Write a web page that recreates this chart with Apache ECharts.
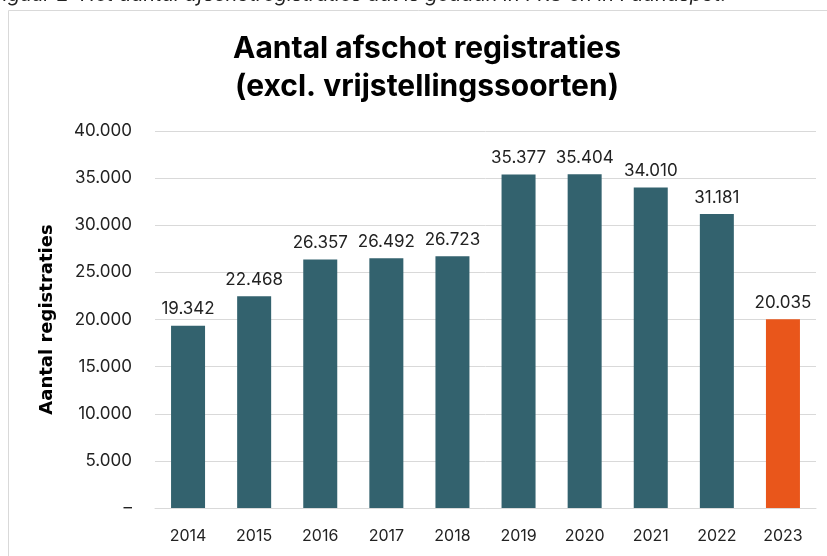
<!DOCTYPE html>
<html>
<head>
<meta charset="utf-8">
<script src="https://cdn.jsdelivr.net/npm/echarts@6/dist/echarts.min.js"></script>
<style>
  html, body { margin: 0; padding: 0; background: #fff; }
  #chart { width: 827px; height: 556px; }
</style>
</head>
<body>
<div id="chart"></div>
<script>
// jaren en aantallen afschot registraties
const years = ['2014', '2015', '2016', '2017', '2018', '2019', '2020', '2021', '2022', '2023'];
const counts = [19342, 22468, 26357, 26492, 26723, 35377, 35404, 34010, 31181, 20035];
const yTicks = [0, 5000, 10000, 15000, 20000, 25000, 30000, 35000, 40000];

const FONT = 'Inter, "Open Sans", sans-serif';
const teal = '#33626e';
const orange = '#e9561b';

function fmt(v) {
    if (v === 0) return '–';
    return String(v).replace(/\B(?=(\d{3})+(?!\d))/g, '.');
}

const chart = echarts.init(document.getElementById('chart'));

chart.setOption({
    animation: false,
    textStyle: { fontFamily: FONT },
    title: {
        text: 'Aantal afschot registraties\n(excl. vrijstellingssoorten)',
        left: 422,
        top: 25,
        textAlign: 'center',
        textStyle: { fontFamily: FONT, fontSize: 30, fontWeight: 'bold', color: '#000', lineHeight: 38 }
    },
    graphic: [
        {
            type: 'rect',
            shape: { x: 8.5, y: 10.5, width: 900, height: 600 },
            style: { fill: 'none', stroke: '#d9d9d9', lineWidth: 1 }
        },
        {
            type: 'text',
            left: -9,
            top: -15,
            style: {
                text: 'Figuur 2: Het aantal afschotregistraties dat is gedaan in FRS en in Faunaspot.',
                font: 'italic 20px ' + FONT,
                fill: '#222'
            }
        }
    ],
    grid: { left: 155, right: 11, top: 131, bottom: 48 },
    xAxis: {
        type: 'category',
        data: years,
        axisLine: { lineStyle: { color: '#d9d9d9' } },
        axisTick: { show: false },
        axisLabel: { color: '#222', fontSize: 16, margin: 20, fontFamily: FONT }
    },
    yAxis: {
        type: 'value',
        min: 0,
        max: 40000,
        interval: 5000,
        name: 'Aantal registraties',
        nameLocation: 'middle',
        nameGap: 99,
        nameTextStyle: { fontSize: 18, fontWeight: 'bold', color: '#000', fontFamily: 'DejaVu Sans, ' + FONT },
        axisLine: { show: false },
        axisTick: { show: false },
        axisLabel: {
            color: '#222', fontSize: 17, margin: 23, fontFamily: FONT,
            formatter: v => yTicks.includes(v) ? fmt(v) : ''
        },
        splitLine: { lineStyle: { color: '#d9d9d9', width: 1 } }
    },
    series: [{
        type: 'bar',
        barWidth: 34,
        data: counts.map((v, i) => ({
            value: v,
            itemStyle: { color: i === counts.length - 1 ? orange : teal }
        })),
        label: {
            show: true,
            position: 'top',
            distance: 8,
            color: '#222',
            fontSize: 17,
            fontFamily: FONT,
            formatter: p => fmt(p.value)
        }
    }]
});
</script>
</body>
</html>
